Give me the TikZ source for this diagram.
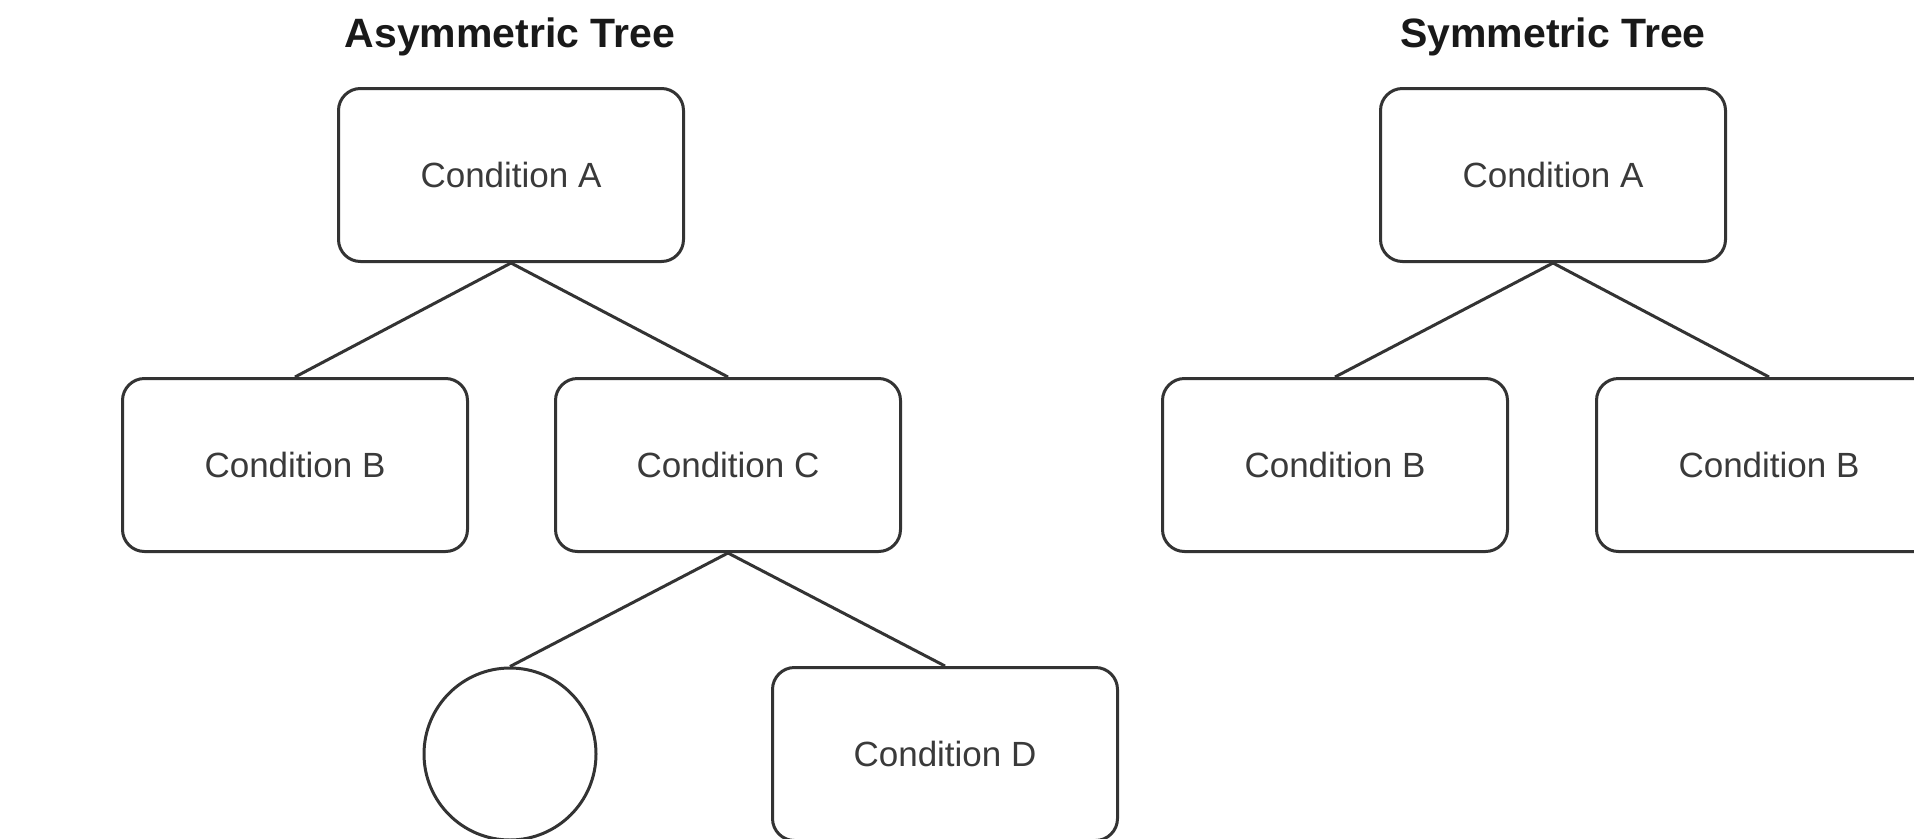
\documentclass[tikz,border=0pt]{standalone}
\usepackage{fontspec}
\setmainfont{Liberation Sans}
\definecolor{ink}{HTML}{333333}
\definecolor{txt}{HTML}{3A3A3A}
\begin{document}
\begin{tikzpicture}[x=1pt,y=-1pt,
  cond/.style={draw=ink, line width=3pt, rounded corners=22pt, rectangle,
    minimum width=345pt, minimum height=173pt, inner sep=0pt,
    font=\fontsize{35}{40}\selectfont, text=txt},
  leaf/.style={draw=ink, line width=3pt, circle, minimum size=172pt, inner sep=0pt},
  ttl/.style={font=\fontsize{41}{46}\selectfont\bfseries, text=black!90},
  edge/.style={draw=ink, line width=3pt}]
\useasboundingbox (0,0) rectangle (1914,838);
\clip (0,0) rectangle (1914,838);
\fill[white] (0,0) rectangle (1914,838);
% left tree
\node[ttl] (t1) at (510,37) {Asymmetric Tree};
\node[cond] (a1) at (511,175) {Condition A};
\node[cond] (b1) at (295,465) {Condition B};
\node[cond] (c1) at (728,465) {Condition C};
\node[leaf] (e1) at (510,754) {};
\node[cond] (d1) at (945,754) {Condition D};
\draw[edge] (a1.south) -- (b1.north);
\draw[edge] (a1.south) -- (c1.north);
\draw[edge] (c1.south) -- (e1.north);
\draw[edge] (c1.south) -- (d1.north);
% right tree
\node[ttl] (t2) at (1553,37) {Symmetric Tree};
\node[cond] (a2) at (1553,175) {Condition A};
\node[cond] (b2) at (1335,465) {Condition B};
\node[cond] (b3) at (1769,465) {Condition B};
\draw[edge] (a2.south) -- (b2.north);
\draw[edge] (a2.south) -- (b3.north);
\end{tikzpicture}
\end{document}
